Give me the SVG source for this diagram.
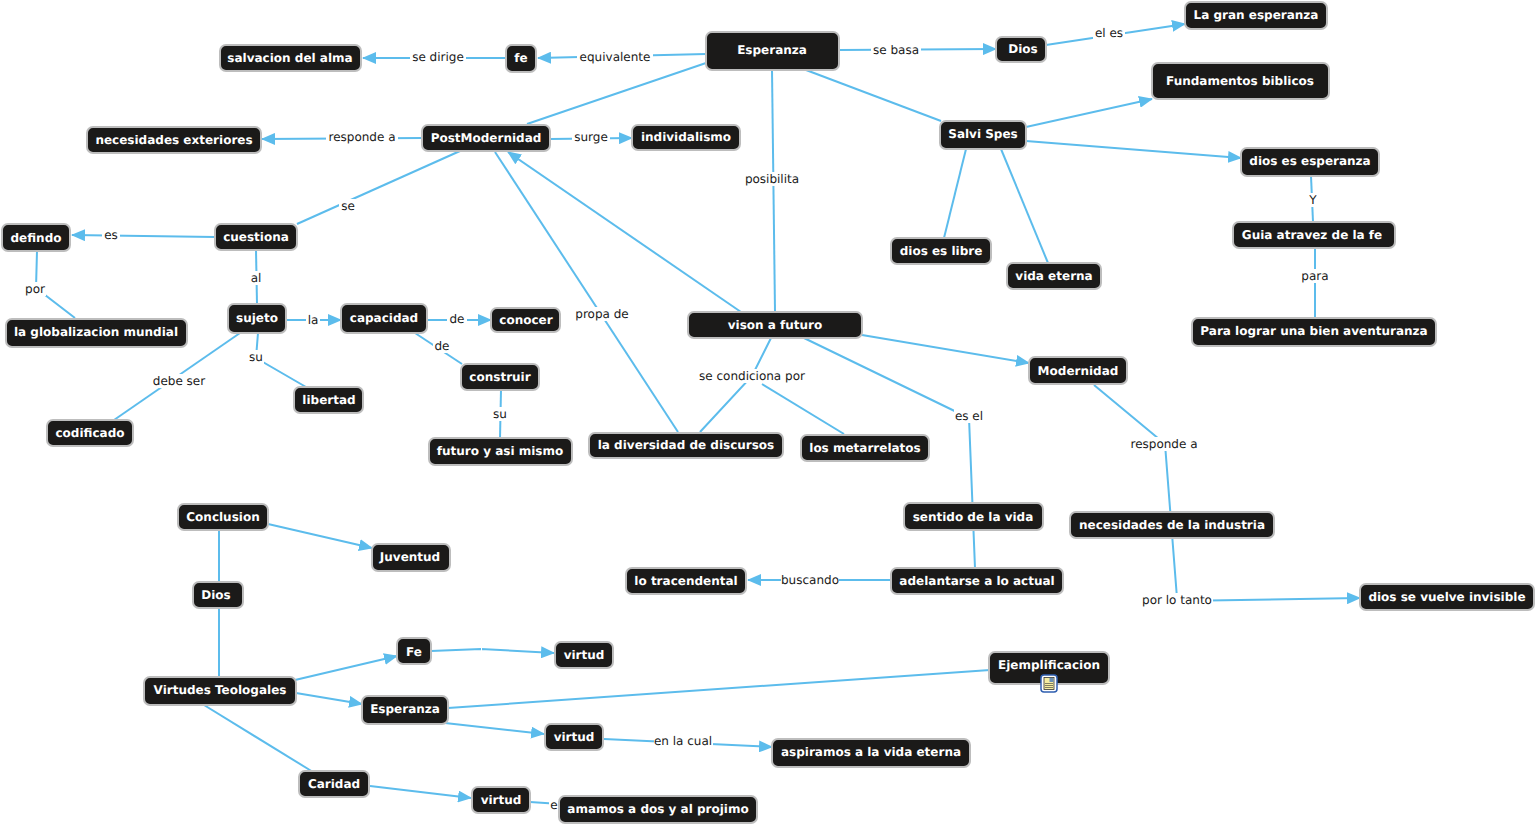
<svg xmlns="http://www.w3.org/2000/svg" width="1536" height="827" viewBox="0 0 1536 827">
<style>
.n rect{fill:#1b1a19;stroke:#bdbdbd;stroke-width:2}
.n text{font:bold 12px "DejaVu Sans",sans-serif;fill:#fff;text-anchor:middle;text-rendering:geometricPrecision;transform:translateY(.3px)}
.c path{fill:none;stroke:#5cbcec;stroke-width:2}
.c .a{marker-end:url(#ah)}
.c rect{fill:#fff}
.c text{font:12px "DejaVu Sans",sans-serif;fill:#1a1a1a;text-anchor:middle;text-rendering:geometricPrecision;transform:translateY(-.3px)}
</style>
<defs><marker id="ah" markerUnits="userSpaceOnUse" markerWidth="14" markerHeight="12" refX="13" refY="6" orient="auto"><path d="M0 0L14 6L0 12Z" fill="#5cbcec"/></marker></defs>
<rect width="1536" height="827" fill="#fff"/>
<g class="c" id="connectors">
<path class="a" d="M840 50L996 49"/>
<path class="a" d="M1046 45L1185 24"/>
<path class="a" d="M706 54L538 58"/>
<path class="a" d="M506 58L363 58"/>
<path d="M706 63L527 124"/>
<path d="M806 70L941 121"/>
<path d="M772 70L775 312"/>
<path class="a" d="M1026 127L1152 99"/>
<path class="a" d="M1026 141L1241 158"/>
<path d="M966 149L944 238"/>
<path d="M1001 149L1048 263"/>
<path d="M1311 176L1313 222"/>
<path d="M1315 248L1315 318"/>
<path class="a" d="M422 138L262 139"/>
<path class="a" d="M550 139L632 138"/>
<path d="M460 151L297 224"/>
<path d="M495 152L678 432"/>
<path class="a" d="M741 312L508 152"/>
<path class="a" d="M215 237L72 235"/>
<path d="M37 251L36 288L75 318"/>
<path d="M256 250L257 304"/>
<path class="a" d="M287 320L341 320"/>
<path class="a" d="M427 320L491 320"/>
<path d="M240 333L114 420"/>
<path d="M258 333L256 358L306 387"/>
<path d="M415 333L462 364"/>
<path d="M501 390L500 438"/>
<path d="M771 338L752 376L700 432"/>
<path d="M762 384L844 434"/>
<path d="M804 338L969 418L975 568"/>
<path class="a" d="M862 335L1029 363"/>
<path d="M1094 385L1165 444L1177 598"/>
<path class="a" d="M1177 601L1360 598"/>
<path class="a" d="M891 580L748 580"/>
<path d="M219 530L219 677"/>
<path class="a" d="M268 524L372 548"/>
<path class="a" d="M295 680L397 656"/>
<path class="a" d="M296 693L362 704"/>
<path d="M204 705L313 772"/>
<path class="a" d="M431 651L481 649L554 653"/>
<path d="M448 708L990 670"/>
<path class="a" d="M445 723L544 734"/>
<path class="a" d="M604 739L772 747"/>
<path class="a" d="M370 786L471 798"/>
<path d="M530 802L560 804"/>
<rect x="481" y="643" width="1" height="12"/>
<rect x="871" y="43" width="50" height="14"/><text x="896" y="54">se basa</text>
<rect x="1093" y="26" width="32" height="14"/><text x="1109" y="37">el es</text>
<rect x="577" y="50" width="76" height="14"/><text x="615" y="61">equivalente</text>
<rect x="410" y="50" width="56" height="14"/><text x="438" y="61">se dirige</text>
<rect x="743" y="172" width="58" height="14"/><text x="772" y="183">posibilita</text>
<rect x="1306" y="193" width="14" height="14"/><text x="1313" y="204">Y</text>
<rect x="1299" y="269" width="32" height="14"/><text x="1315" y="280">para</text>
<rect x="326" y="130" width="72" height="14"/><text x="362" y="141">responde a</text>
<rect x="572" y="130" width="38" height="14"/><text x="591" y="141">surge</text>
<rect x="339" y="199" width="18" height="14"/><text x="348" y="210">se</text>
<rect x="573" y="307" width="58" height="14"/><text x="602" y="318">propa de</text>
<rect x="102" y="228" width="18" height="14"/><text x="111" y="239">es</text>
<rect x="24" y="282" width="22" height="14"/><text x="35" y="293">por</text>
<rect x="249" y="271" width="14" height="14"/><text x="256" y="282">al</text>
<rect x="306" y="313" width="14" height="14"/><text x="313" y="324">la</text>
<rect x="447" y="312" width="20" height="14"/><text x="457" y="323">de</text>
<rect x="151" y="374" width="56" height="14"/><text x="179" y="385">debe ser</text>
<rect x="248" y="350" width="16" height="14"/><text x="256" y="361">su</text>
<rect x="433" y="339" width="19" height="14"/><text x="442" y="350">de</text>
<rect x="492" y="407" width="16" height="14"/><text x="500" y="418">su</text>
<rect x="697" y="369" width="110" height="14"/><text x="752" y="380">se condiciona por</text>
<rect x="954" y="409" width="30" height="14"/><text x="969" y="420">es el</text>
<rect x="1130" y="437" width="69" height="14"/><text x="1164" y="448">responde a</text>
<rect x="1141" y="593" width="72" height="14"/><text x="1177" y="604">por lo tanto</text>
<rect x="781" y="573" width="58" height="14"/><text x="810" y="584">buscando</text>
<rect x="654" y="734" width="59" height="14"/><text x="683" y="745">en la cual</text>
<rect x="549" y="798" width="10" height="14"/><text x="554" y="809">e</text>
</g>
<g class="n" id="n1"><rect x="706" y="32" width="133" height="38" rx="6"/><text x="772" y="54">Esperanza</text></g>
<g class="n" id="n2"><rect x="996" y="37" width="50" height="25" rx="6"/><text x="1023" y="53">Dios</text></g>
<g class="n" id="n3"><rect x="1185" y="2" width="142" height="27" rx="6"/><text x="1256" y="19">La gran esperanza</text></g>
<g class="n" id="n4"><rect x="506" y="45" width="30" height="27" rx="6"/><text x="521" y="62">fe</text></g>
<g class="n" id="n5"><rect x="220" y="45" width="141" height="26" rx="6"/><text x="290" y="62">salvacion del alma</text></g>
<g class="n" id="n6"><rect x="1152" y="63" width="177" height="36" rx="6"/><text x="1240" y="85">Fundamentos biblicos</text></g>
<g class="n" id="n7"><rect x="940" y="121" width="86" height="28" rx="6"/><text x="983" y="138">Salvi Spes</text></g>
<g class="n" id="n8"><rect x="1241" y="148" width="138" height="28" rx="6"/><text x="1310" y="165">dios es esperanza</text></g>
<g class="n" id="n9"><rect x="422" y="125" width="128" height="26" rx="6"/><text x="486" y="142">PostModernidad</text></g>
<g class="n" id="n10"><rect x="87" y="127" width="174" height="26" rx="6"/><text x="174" y="144">necesidades exteriores</text></g>
<g class="n" id="n11"><rect x="632" y="125" width="108" height="25" rx="6"/><text x="686" y="141">individalismo</text></g>
<g class="n" id="n12"><rect x="215" y="224" width="82" height="26" rx="6"/><text x="256" y="241">cuestiona</text></g>
<g class="n" id="n13"><rect x="2" y="224" width="68" height="27" rx="6"/><text x="36" y="242">defindo</text></g>
<g class="n" id="n14"><rect x="6" y="319" width="181" height="28" rx="6"/><text x="96" y="336">la globalizacion mundial</text></g>
<g class="n" id="n15"><rect x="228" y="304" width="58" height="29" rx="6"/><text x="257" y="322">sujeto</text></g>
<g class="n" id="n16"><rect x="341" y="304" width="86" height="29" rx="6"/><text x="384" y="322">capacidad</text></g>
<g class="n" id="n17"><rect x="491" y="308" width="69" height="24" rx="6"/><text x="526" y="324">conocer</text></g>
<g class="n" id="n18"><rect x="47" y="420" width="86" height="26" rx="6"/><text x="90" y="437">codificado</text></g>
<g class="n" id="n19"><rect x="294" y="387" width="69" height="26" rx="6"/><text x="329" y="404">libertad</text></g>
<g class="n" id="n20"><rect x="461" y="364" width="78" height="26" rx="6"/><text x="500" y="381">construir</text></g>
<g class="n" id="n21"><rect x="429" y="438" width="143" height="27" rx="6"/><text x="500" y="455">futuro y asi mismo</text></g>
<g class="n" id="n22"><rect x="688" y="312" width="174" height="26" rx="6"/><text x="775" y="329">vison a futuro</text></g>
<g class="n" id="n23"><rect x="589" y="433" width="194" height="25" rx="6"/><text x="686" y="449">la diversidad de discursos</text></g>
<g class="n" id="n24"><rect x="801" y="435" width="128" height="26" rx="6"/><text x="865" y="452">los metarrelatos</text></g>
<g class="n" id="n26"><rect x="891" y="238" width="100" height="26" rx="6"/><text x="941" y="255">dios es libre</text></g>
<g class="n" id="n27"><rect x="1007" y="263" width="94" height="26" rx="6"/><text x="1054" y="280">vida eterna</text></g>
<g class="n" id="n28"><rect x="1233" y="222" width="162" height="26" rx="6"/><text x="1312" y="239">Guia atravez de la fe</text></g>
<g class="n" id="n29"><rect x="1192" y="318" width="244" height="28" rx="6"/><text x="1314" y="335">Para lograr una bien aventuranza</text></g>
<g class="n" id="n30"><rect x="1029" y="357" width="98" height="27" rx="6"/><text x="1078" y="375">Modernidad</text></g>
<g class="n" id="n31"><rect x="1070" y="512" width="204" height="26" rx="6"/><text x="1172" y="529">necesidades de la industria</text></g>
<g class="n" id="n32"><rect x="1360" y="584" width="174" height="26" rx="6"/><text x="1447" y="601">dios se vuelve invisible</text></g>
<g class="n" id="n33"><rect x="904" y="503" width="139" height="27" rx="6"/><text x="973" y="521">sentido de la vida</text></g>
<g class="n" id="n34"><rect x="891" y="568" width="172" height="26" rx="6"/><text x="977" y="585">adelantarse a lo actual</text></g>
<g class="n" id="n35"><rect x="626" y="568" width="120" height="26" rx="6"/><text x="686" y="585">lo tracendental</text></g>
<g class="n" id="n36"><rect x="178" y="504" width="90" height="26" rx="6"/><text x="223" y="521">Conclusion</text></g>
<g class="n" id="n37"><rect x="372" y="544" width="78" height="27" rx="6"/><text x="410" y="561">Juventud</text></g>
<g class="n" id="n38"><rect x="193" y="582" width="50" height="26" rx="6"/><text x="216" y="599">Dios</text></g>
<g class="n" id="n39"><rect x="144" y="677" width="152" height="28" rx="6"/><text x="220" y="694">Virtudes Teologales</text></g>
<g class="n" id="n40"><rect x="397" y="638" width="34" height="26" rx="6"/><text x="414" y="656">Fe</text></g>
<g class="n" id="n41"><rect x="555" y="642" width="58" height="26" rx="6"/><text x="584" y="659">virtud</text></g>
<g class="n" id="n42"><rect x="362" y="696" width="86" height="28" rx="6"/><text x="405" y="713">Esperanza</text></g>
<g class="n" id="n43"><rect x="545" y="724" width="58" height="26" rx="6"/><text x="574" y="741">virtud</text></g>
<g class="n" id="n44"><rect x="772" y="739" width="198" height="28" rx="6"/><text x="871" y="756">aspiramos a la vida eterna</text></g>
<g class="n" id="n45"><rect x="299" y="771" width="70" height="26" rx="6"/><text x="334" y="788">Caridad</text></g>
<g class="n" id="n46"><rect x="472" y="787" width="58" height="26" rx="6"/><text x="501" y="804">virtud</text></g>
<g class="n" id="n47"><rect x="559" y="796" width="198" height="27" rx="6"/><text x="658" y="813">amamos a dos y al projimo</text></g>
<g class="n" id="n48"><rect x="989" y="652" width="120" height="32" rx="6"/><text x="1049" y="669">Ejemplificacion</text>
<rect x="1041" y="675" width="16" height="17" rx="3" style="fill:#fff;stroke:#2f5fb0;stroke-width:1.5"/><rect x="1044" y="677.500" width="10" height="12" style="fill:#f5eda0;stroke:#333;stroke-width:.8"/><rect x="1049.500" y="678" width="4" height="4" style="fill:#6a8fb5;stroke:none"/><path d="M1045 683.500h8M1045 685.500h8M1045 687.500h8" style="stroke:#333;stroke-width:.6;fill:none"/></g>
</svg>
